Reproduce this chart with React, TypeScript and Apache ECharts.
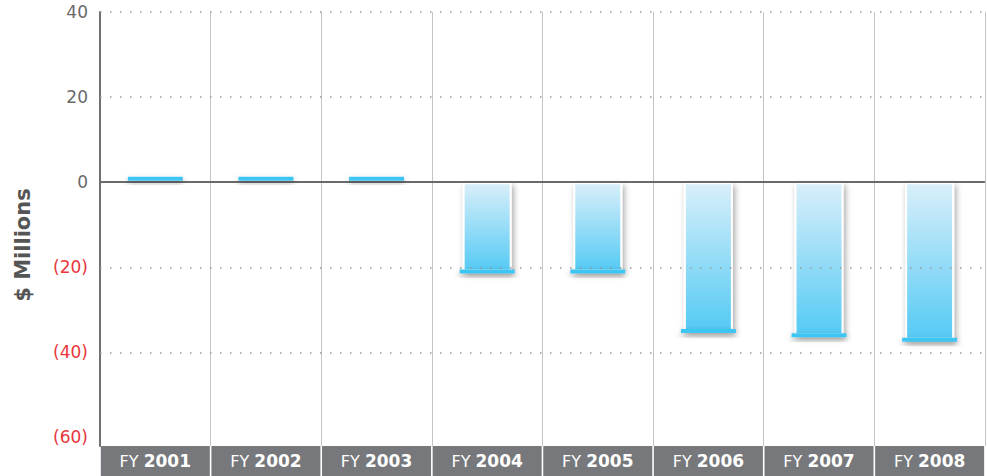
import React, { useEffect, useRef } from "react";
import * as echarts from "echarts";

const categories = ["2001", "2002", "2003", "2004", "2005", "2006", "2007", "2008"];
const values = [0.8, 0.8, 0.8, -21, -21, -35, -36, -37];
const yTicks = [40, 20, 0, -20, -40, -60];
const gridValues = [40, 20, -20, -40];
const zeroValue = 0;

const FONT = "DejaVu Sans";

export default function App() {
  const ref = useRef<HTMLDivElement>(null);
  useEffect(() => {
    if (!ref.current) return;
    const chart = echarts.init(ref.current, null, { renderer: "svg" });
    chart.setOption({
      animation: false,
      backgroundColor: "#ffffff",
      grid: { left: 100, right: 0, top: 12, bottom: 30, containLabel: false },
      graphic: [
        {
          type: "text",
          x: 23,
          y: 245,
          rotation: Math.PI / 2,
          style: {
            text: "$ Millions",
            align: "center",
            verticalAlign: "middle",
            fill: "#555555",
            font: `bold 21px "${FONT}"`,
          },
        },
      ],
      xAxis: {
        type: "category",
        data: categories,
        boundaryGap: true,
        axisLine: { show: false },
        axisTick: { show: false },
        splitLine: { show: true, lineStyle: { color: "#c4c4c4", width: 1, type: "solid" } },
        axisLabel: {
          interval: 0,
          margin: 0,
          backgroundColor: "#77787c",
          width: 109,
          height: 30,
          lineHeight: 30,
          align: "center",
          verticalAlign: "top",
          formatter: (v: string) => `{a|FY }{b|${v}}`,
          rich: {
            a: { color: "#ffffff", fontSize: 16, fontFamily: FONT, lineHeight: 30 },
            b: { color: "#ffffff", fontSize: 17, fontFamily: FONT, fontWeight: "bold", lineHeight: 30 },
          },
        },
      },
      yAxis: {
        type: "value",
        min: -62,
        max: 40,
        axisLine: { show: true, lineStyle: { color: "#707070", width: 2 } },
        axisTick: { show: false, customValues: yTicks },
        splitLine: { show: false },
        axisLabel: {
          customValues: yTicks,
          margin: 12,
          fontSize: 17,
          fontFamily: FONT,
          color: (v: any) => (Number(v) < 0 ? "#e8363d" : "#6a6a6a"),
          formatter: (v: number) => (v < 0 ? `(${-v})` : `${v}`),
        },
      },
      series: [
        {
          type: "bar",
          data: values,
          barWidth: 49,
          z: 2,
          itemStyle: {
            color: new echarts.graphic.LinearGradient(0, 0, 0, 1, [
              { offset: 0, color: "#d9effa" },
              { offset: 1, color: "#55caf4" },
            ]),
            borderColor: "#ffffff",
            borderWidth: 2,
            shadowBlur: 6,
            shadowColor: "rgba(0,0,0,0.35)",
            shadowOffsetX: 2,
            shadowOffsetY: 3,
          },
        },
        {
          type: "scatter",
          data: values,
          symbol: "rect",
          symbolSize: [55, 4],
          z: 4,
          itemStyle: {
            color: "#3ec5f3",
            opacity: 1,
            shadowBlur: 6,
            shadowColor: "rgba(0,0,0,0.3)",
            shadowOffsetY: 3,
          },
          markLine: {
            silent: true,
            symbol: "none",
            label: { show: false },
            z: 3,
            lineStyle: { color: "#9a9a9a", width: 1.5, type: [1.5, 8.5] },
            data: [
              ...gridValues.map((v) => ({ yAxis: v })),
              {
                yAxis: zeroValue,
                lineStyle: {
                  color: "#6a6a6a",
                  width: 2,
                  type: "solid",
                },
              },
            ],
          },
        },
      ],
    });
    return () => chart.dispose();
  }, []);
  return (
    <div
      ref={ref}
      style={{ position: "absolute", left: 0, top: 0, width: 987, height: 476 }}
    />
  );
}
